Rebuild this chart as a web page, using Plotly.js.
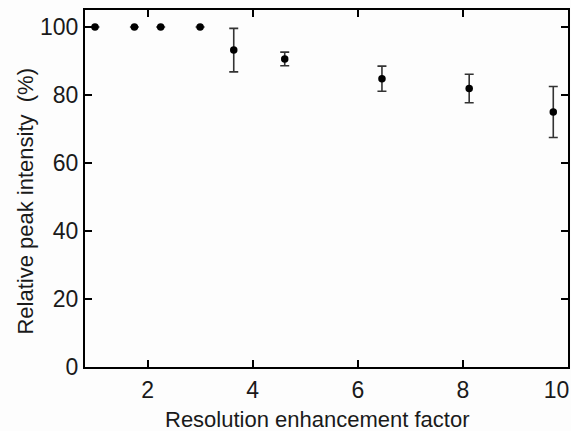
<!DOCTYPE html>
<html>
<head>
<meta charset="utf-8">
<script src="https://cdn.plot.ly/plotly-3.0.1.min.js"></script>
<style>html,body{margin:0;padding:0;background:#fff;}</style>
</head>
<body>
<div id="chart" style="width:571px;height:431px;"></div>
<script>
const factor = [1.0, 1.75, 2.25, 3.0, 3.64, 4.61, 6.46, 8.12, 9.72];
const intensity = [100, 100, 100, 100, 93.2, 90.6, 84.8, 81.9, 75.0];
const errorVals = [0, 0, 0, 0, 6.4, 2.0, 3.7, 4.2, 7.5];
const xTickVals = [2, 4, 6, 8, 10];
const xTickText = ["2", "4", "6", "8", "10\u2002\u2002"];
const yTickVals = [0, 20, 40, 60, 80, 100];
const xTitle = 'Resolution enhancement factor';
const yTitle = 'Relative peak intensity \u00a0(%)';

const trace = {
  x: factor,
  y: intensity,
  type: 'scatter',
  mode: 'markers',
  marker: {color: '#000', size: 7.5},
  error_y: {type: 'data', array: errorVals, visible: true, color: '#333', thickness: 1.6, width: 4.5},
  hoverinfo: 'skip'
};

const fam = 'Liberation Sans, Arial, sans-serif';
const txtColor = '#1a1a1a';

const layout = {
  width: 571, height: 431,
  margin: {l: 85, r: 3, t: 10, b: 64},
  paper_bgcolor: '#fdfdfd', plot_bgcolor: '#fdfdfd',
  showlegend: false,
  font: {family: fam, color: txtColor},
  xaxis: {
    range: [0.81, 10],
    tickmode: 'array', tickvals: xTickVals, ticktext: xTickText,
    ticks: 'inside', ticklen: 7, tickwidth: 2, tickcolor: '#000',
    showline: true, linewidth: 2, linecolor: '#000', mirror: 'ticks',
    showgrid: false, zeroline: false,
    tickfont: {size: 23, color: txtColor, family: fam},
    ticklabelstandoff: 1,
    ticklabeloverflow: 'allow'
  },
  yaxis: {
    range: [0, 105],
    tickmode: 'array', tickvals: yTickVals,
    ticks: 'inside', ticklen: 7, tickwidth: 2, tickcolor: '#000',
    showline: true, linewidth: 2, linecolor: '#000', mirror: 'ticks',
    showgrid: false, zeroline: false,
    tickfont: {size: 23, color: txtColor, family: fam}
  },
  annotations: [
    {text: xTitle, xref: 'paper', yref: 'paper', x: 0.482, y: -0.147,
     xanchor: 'center', yanchor: 'middle', showarrow: false,
     font: {size: 22, color: txtColor, family: fam}},
    {text: yTitle, xref: 'paper', yref: 'paper', x: -0.123, y: 0.465,
     xanchor: 'center', yanchor: 'middle', showarrow: false, textangle: -90,
     font: {size: 22, color: txtColor, family: fam}}
  ]
};

Plotly.newPlot('chart', [trace], layout, {displayModeBar: false, staticPlot: true});
</script>
</body>
</html>
